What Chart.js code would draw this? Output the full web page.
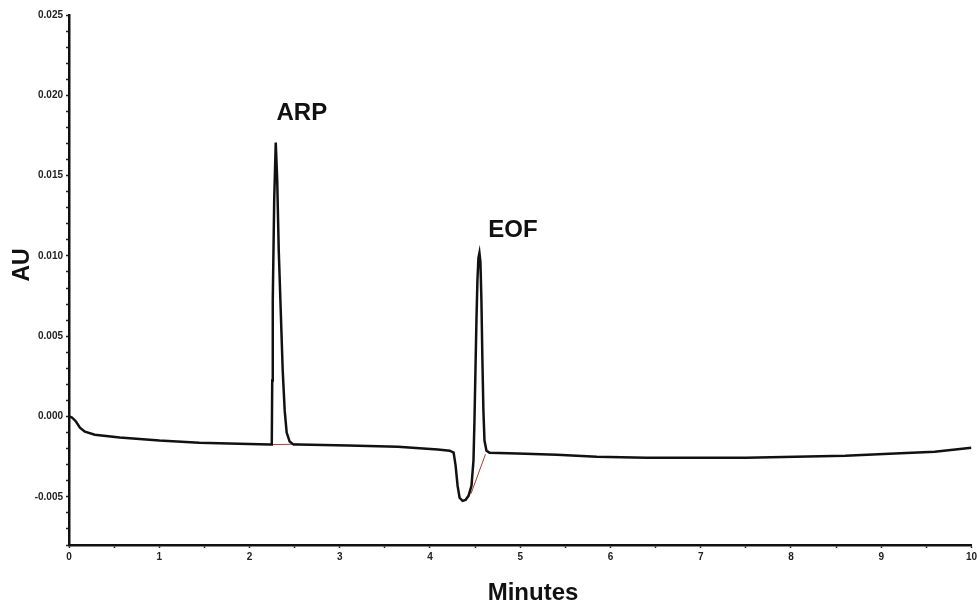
<!DOCTYPE html>
<html>
<head>
<meta charset="utf-8">
<script src="https://cdn.jsdelivr.net/npm/chart.js@4.4.1/dist/chart.umd.min.js"></script>
<style>
  html,body{margin:0;padding:0;background:#fff;}
  #wrap{width:980px;height:605px;position:relative;}
</style>
</head>
<body>
<div id="wrap"><canvas id="c" width="980" height="605"></canvas></div>
<script>
// Electropherogram trace (minutes, AU)
const minutes = [0,0.033,0.077,0.121,0.176,0.286,0.562,1.002,1.443,1.883,2.225,
  2.247,2.252,2.258,2.274,2.291,2.307,2.324,2.346,2.368,2.390,2.412,2.445,2.489,2.544,
  3.095,3.645,4.086,4.218,4.262,4.284,4.306,4.328,4.361,4.394,4.427,4.460,4.482,4.493,
  4.504,4.515,4.526,4.537,4.548,4.559,4.570,4.581,4.592,4.604,4.626,4.659,4.967,5.407,
  5.848,6.399,6.949,7.500,8.051,8.601,9.152,9.593,10.0];
const absorbance = [0,-0.00006,-0.00031,-0.00069,-0.00094,-0.00113,-0.00131,-0.0015,-0.00163,-0.00169,-0.00175,
  -0.00175,0.00225,0.00725,0.0135,0.01706,0.01475,0.01038,0.00663,0.00288,0.00038,-0.001,-0.00156,-0.00175,-0.00175,
  -0.00181,-0.00188,-0.00206,-0.00213,-0.00225,-0.00306,-0.00431,-0.00506,-0.00525,-0.00519,-0.00494,-0.00431,-0.00275,-0.00025,
  0.00288,0.006,0.0085,0.00988,0.01019,0.00963,0.00725,0.0035,0.00038,-0.0015,-0.00213,-0.00225,-0.00231,-0.00238,
  -0.0025,-0.00256,-0.00256,-0.00256,-0.0025,-0.00244,-0.00231,-0.00219,-0.00194];
// integration baselines (minutes, AU)
const arpBaseX = [2.247, 2.544];
const arpBaseY = [-0.00175, -0.00172];
const eofBaseX = [4.455, 4.615];
const eofBaseY = [-0.0048, -0.00235];
// peak labels
const peakNames = ["ARP", "EOF"];
const peakLabelX = [2.58, 4.92];
const peakLabelY = [0.0189, 0.0116];
// axis ticks and titles
const xTickLabels = ["0","1","2","3","4","5","6","7","8","9","10"];
const yTickLabels = ["-0.005","0.000","0.005","0.010","0.015","0.020","0.025"];
const xTitle = "Minutes";
const yTitle = "AU";

const toXY = (xs, ys) => xs.map((x, i) => ({x: x, y: ys[i]}));
const FONT = '"Liberation Sans", Arial, sans-serif';

const labelPlugin = {
  id: 'peakLabels',
  afterDatasetsDraw(chart) {
    const ctx = chart.ctx, xs = chart.scales.x, ys = chart.scales.y;
    ctx.save();
    ctx.font = 'bold 24px ' + FONT;
    ctx.fillStyle = '#111';
    ctx.textAlign = 'center';
    ctx.textBaseline = 'middle';
    peakNames.forEach((n, i) => {
      ctx.fillText(n, xs.getPixelForValue(peakLabelX[i]), ys.getPixelForValue(peakLabelY[i]));
    });
    // axis titles
    ctx.textBaseline = 'alphabetic';
    ctx.fillText(xTitle, 533, 600);
    ctx.font = 'bold 23px ' + FONT;
    ctx.translate(29, 265);
    ctx.rotate(-Math.PI / 2);
    ctx.fillText(yTitle, 0, 0);
    ctx.restore();
  }
};

const isMajorY = v => Math.abs(Math.round(v * 1000)) % 5 === 0;
const isMajorX = v => Math.abs(v - Math.round(v)) < 1e-6;

new Chart(document.getElementById('c'), {
  type: 'line',
  data: {
    datasets: [
      {data: toXY(minutes, absorbance), borderColor: '#111', borderWidth: 2.5, pointRadius: 0, tension: 0, fill: false},
      {data: toXY(arpBaseX, arpBaseY), borderColor: '#a0403a', borderWidth: 1, pointRadius: 0, fill: false},
      {data: toXY(eofBaseX, eofBaseY), borderColor: '#a0403a', borderWidth: 1, pointRadius: 0, fill: false}
    ]
  },
  options: {
    responsive: false,
    animation: false,
    layout: {padding: {left: 0, right: 3, top: 15, bottom: 0}},
    plugins: {legend: {display: false}, tooltip: {enabled: false}},
    scales: {
      x: {
        type: 'linear', min: 0, max: 10,
        afterFit: s => { s.height = 60; },
        border: {display: true, color: '#111', width: 2.5},
        grid: {display: true, drawOnChartArea: false, drawTicks: true, tickLength: 3, tickColor: '#222', tickWidth: 1.5},
        ticks: {
          stepSize: 0.5, autoSkip: false, maxRotation: 0, padding: 3,
          font: {family: FONT, size: 10, weight: 'bold'}, color: '#222',
          callback: v => isMajorX(v) ? xTickLabels[Math.round(v)] : ''
        },
        title: {display: false}
      },
      y: {
        type: 'linear', min: -0.008, max: 0.025,
        afterFit: s => { s.width = 69; },
        border: {display: true, color: '#111', width: 2.5},
        grid: {display: true, drawOnChartArea: false, drawTicks: true, tickLength: 3, tickColor: '#222', tickWidth: 1.5},
        ticks: {
          stepSize: 0.001, autoSkip: false, padding: 3,
          font: {family: FONT, size: 10, weight: 'bold'}, color: '#222',
          callback: v => {
            if (!isMajorY(v)) return '';
            const k = Math.round(v * 1000) / 5 + 1;
            return yTickLabels[k] !== undefined ? yTickLabels[k] : '';
          }
        },
        title: {display: false}
      }
    }
  },
  plugins: [labelPlugin]
});
</script>
</body>
</html>
